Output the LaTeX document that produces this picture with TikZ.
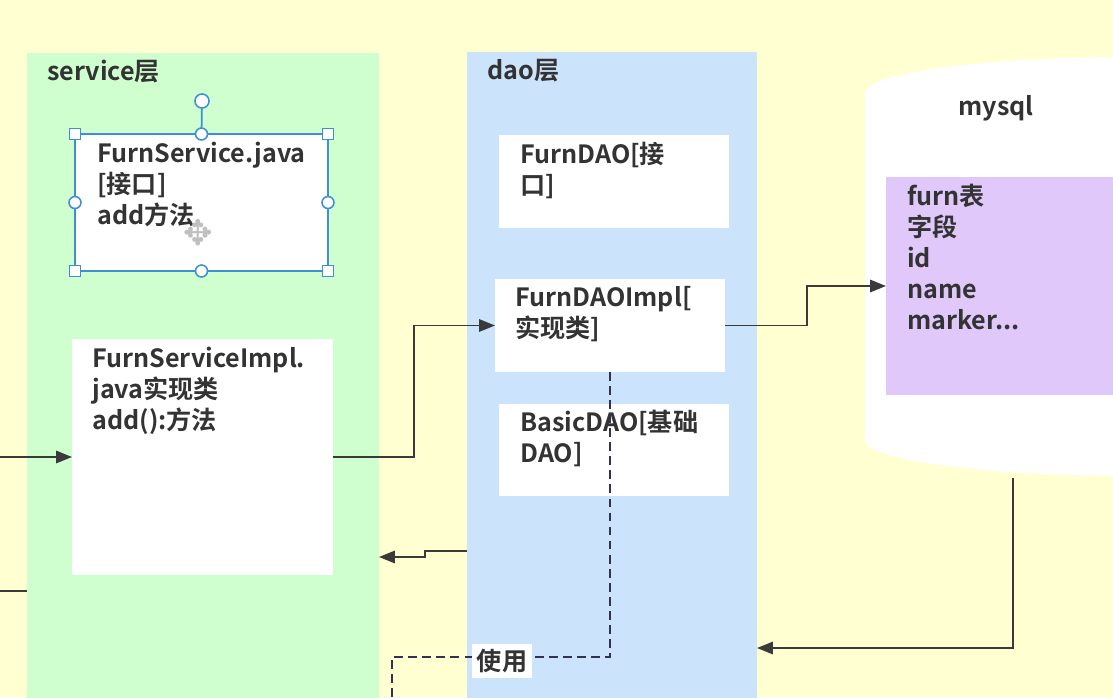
\documentclass[tikz,border=0pt]{standalone}
\usepackage{fontspec}
\setmainfont{Noto Sans CJK SC}[BoldFont={Noto Sans CJK SC Bold}]
\newfontfamily\symfont{DejaVu Sans}
\usetikzlibrary{arrows.meta,fit,calc}
\definecolor{bgc}{HTML}{FFFFD2}
\definecolor{svcc}{HTML}{D0FFCF}
\definecolor{daoc}{HTML}{CCE4FB}
\definecolor{tblc}{HTML}{E0C8FA}
\definecolor{txtc}{HTML}{333333}
\definecolor{linec}{HTML}{3A3A3A}
\definecolor{selc}{HTML}{3F8FD2}
\begin{document}
\begin{tikzpicture}[x=0.02cm,y=-0.02cm,
  panel/.style={draw=none,inner sep=0pt,outer sep=0pt},
  wbox/.style={fill=white,draw=none,inner sep=0pt,outer sep=0pt},
  txt/.style={anchor=north west,inner sep=0pt,align=left,text=txtc,
    font=\fontsize{14.3}{17.6}\selectfont\bfseries},
  ln/.style={draw=linec,line width=1.1pt},
  arr/.style={ln,-{Triangle[length=9pt,width=7pt]}},
  dsh/.style={draw=linec!85!blue,line width=1pt,dash pattern=on 5pt off 3pt},
  hsq/.style={draw=selc,fill=white,line width=0.9pt,minimum size=6.3pt,inner sep=0pt},
  hci/.style={draw=selc,fill=white,line width=0.9pt,circle,minimum size=6.8pt,inner sep=0pt}]
\clip (0,0) rectangle (1113,697);
\useasboundingbox (0,0) rectangle (1113,697);
\fill[bgc] (0,0) rectangle (1113,697);

% panels
\node[panel,fill=svcc,fit={(27,53) (379,720)}] (svc) {};
\node[panel,fill=daoc,fit={(467,52) (757,720)}] (dao) {};
\node[txt,anchor=west] (svct) at (47,72) {service层};
\node[txt,anchor=west] (daot) at (487,71) {dao层};

% database cylinder
\fill[white] (865,93) -- (865,440) arc[start angle=180,end angle=360,x radius=5.3cm,y radius=0.72cm]
  -- (1395,93) arc[start angle=0,end angle=180,x radius=5.3cm,y radius=0.72cm] -- cycle;
\coordinate (dbb) at (1013,478);
\node[txt,anchor=center] (dbt) at (996,108) {mysql};
\node[panel,fill=tblc,fit={(886,177) (1120,395)}] (tbl) {};
\node[txt] (tblt) at (907,184) {furn表\\字段\\id\\name\\marker...};

% service boxes
\node[wbox,fit={(75,134) (328,271)}] (fs) {};
\node[txt] (fst) at (97,142) {FurnService.java\\{}[接口]\\add方法};
\node[wbox,fit={(72,339) (333,575)}] (fsi) {};
\node[txt] (fsit) at (92,347) {FurnServiceImpl.\\java实现类\\add():方法};

% dao boxes
\node[wbox,fit={(499,135) (729,228)}] (fd) {};
\node[txt] (fdt) at (520,142) {FurnDAO[接\\口]};
\node[wbox,fit={(495,279) (725,372)}] (fdi) {};
\node[txt] (fdit) at (515,286) {FurnDAOImpl[\\实现类]};
\node[wbox,fit={(499,404) (729,496)}] (bd) {};
\node[txt] (bdt) at (520,410) {BasicDAO[基础\\DAO]};

% selection frame on FurnService box
\draw[selc,line width=1pt] (fs.north west) rectangle (fs.south east);
\node[hci,minimum size=8pt] (rot) at (202,101) {};
\draw[selc,line width=1pt] (rot) -- (fs.north);
\foreach \a in {north west,north east,south west,south east}
  \node[hsq] at (fs.\a) {};
\foreach \a in {north,south,west,east}
  \node[hci] at (fs.\a) {};
\node[text=gray!50,font=\symfont\fontsize{20}{20}\selectfont,inner sep=0pt] (cur) at (198,233) {✥};

% connectors
\coordinate (inA) at (0,457);
\coordinate (inB) at (0,591);
\draw[arr] (inA) -- (fsi.west);
\draw[ln] (inB) -- (inB -| svc.west);
\draw[arr] (fsi.east) -- ++(81,0) |- (fdi.west);
\draw[arr] (fdi.east) -- ++(82,0) |- (tbl.west);
\draw[arr] (dbb) |- (dao.east |- 0,648);
\draw[arr] (dao.west |- 0,551) -- (425,551) -- (425,557) -- (svc.east |- 0,557);
\coordinate (dEnd) at (392,700);
\draw[dsh] (fdi.south) -- (fdi.south |- 0,657) -- (dEnd |- 0,657) -- (dEnd);
\node[txt,anchor=center,fill=white,inner sep=3pt] (use) at (502,661) {使用};
\end{tikzpicture}
\end{document}
